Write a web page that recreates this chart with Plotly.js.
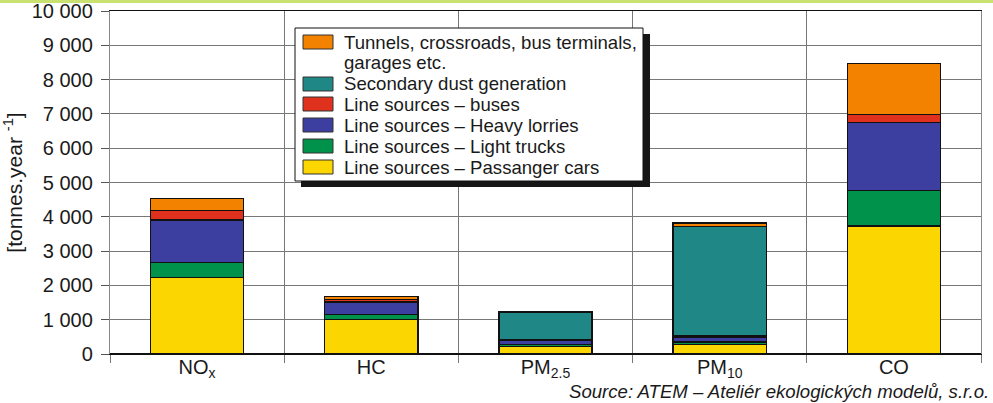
<!DOCTYPE html>
<html>
<head>
<meta charset="utf-8">
<script src="https://cdn.plot.ly/plotly-3.0.1.min.js"></script>
<style>html,body{margin:0;padding:0;background:#fff;}#chart{width:993px;height:403px;}</style>
</head>
<body>
<div id="chart"></div>
<script>
// ---- data (tonnes per year) ----
const categories = ['NOx', 'HC', 'PM2.5', 'PM10', 'CO'];
const tickLabels = ['NO<sub>x</sub>', 'HC', 'PM<sub>2.5</sub>', 'PM<sub>10</sub>', 'CO'];
const passengerCars = [2225, 1010, 215, 280, 3730];
const lightTrucks   = [450, 135, 55, 75, 1030];
const heavyLorries  = [1235, 370, 125, 145, 1990];
const buses         = [270, 80, 20, 45, 240];
const secondaryDust = [0, 0, 790, 3175, 0];
const tunnels       = [350, 90, 40, 95, 1485];
const seriesNames = [
  'Line sources – Passanger cars',
  'Line sources – Light trucks',
  'Line sources – Heavy lorries',
  'Line sources – buses',
  'Secondary dust generation',
  'Tunnels, crossroads, bus terminals, garages etc.'
];
const yTicks = [0, 1000, 2000, 3000, 4000, 5000, 6000, 7000, 8000, 9000, 10000];

// ---- styles ----
const colors = ['#FBD600', '#00924B', '#3C3FA0', '#E0301E', '#1F8886', '#F28200'];
const seriesValues = [passengerCars, lightTrucks, heavyLorries, buses, secondaryDust, tunnels];
const FONT = 'Liberation Sans, Arial, Helvetica, sans-serif';

const traces = seriesValues.map((vals, i) => ({
  type: 'bar',
  name: seriesNames[i],
  x: categories,
  y: vals,
  marker: { color: colors[i], line: { color: '#111', width: 1.4 } },
  showlegend: false,
  hovertemplate: '%{x}: %{y}<extra>' + seriesNames[i] + '</extra>'
}));

// plot area in pixels
const L = 110, R = 981, T = 11, B = 354;
const px = x => (x - L) / (R - L);
const py = y => (B - y) / (B - T);

const shapes = [
  { type: 'rect', xref: 'paper', yref: 'paper', x0: px(0), x1: px(993), y0: py(0), y1: py(3),
    fillcolor: '#C8E170', line: { width: 0 }, layer: 'above' },
  { type: 'rect', xref: 'paper', yref: 'paper', x0: px(301), x1: px(650), y0: py(34), y1: py(187),
    fillcolor: '#161616', line: { width: 0 }, layer: 'above' },
  { type: 'rect', xref: 'paper', yref: 'paper', x0: px(295), x1: px(643), y0: py(28), y1: py(181),
    fillcolor: '#ffffff', line: { color: '#111', width: 1 }, layer: 'above' }
];

const legendOrder = [5, 4, 3, 2, 1, 0];
const swatchY = [[35, 49], [77, 91], [97, 111], [118, 132], [139, 153], [160, 174]];
const annotations = [];
legendOrder.forEach((si, k) => {
  shapes.push({ type: 'rect', xref: 'paper', yref: 'paper',
    x0: px(303), x1: px(333), y0: py(swatchY[k][1]), y1: py(swatchY[k][0]),
    fillcolor: colors[si], line: { color: '#333', width: 1 }, layer: 'above' });
});
const legendLines = [
  ['Tunnels, crossroads, bus terminals,', 42],
  ['garages etc.', 62],
  [seriesNames[4], 84],
  [seriesNames[3], 104],
  [seriesNames[2], 125],
  [seriesNames[1], 146],
  [seriesNames[0], 167]
];
legendLines.forEach(([t, y]) => {
  annotations.push({ xref: 'paper', yref: 'paper', x: px(342), y: py(y),
    xanchor: 'left', yanchor: 'middle', showarrow: false, text: t,
    font: { family: FONT, size: 18.6, color: '#1a1a1a' } });
});
annotations.push({ xref: 'paper', yref: 'paper', x: px(991), y: py(391),
  xanchor: 'right', yanchor: 'middle', showarrow: false,
  text: '<i>Source: ATEM – Ateliér ekologických modelů, s.r.o.</i>',
  font: { family: FONT, size: 18.6, color: '#1a1a1a' } });

const layout = {
  width: 993, height: 403,
  margin: { l: L, r: 993 - R, t: T, b: 403 - B, pad: 0 },
  paper_bgcolor: '#fff', plot_bgcolor: '#fff',
  barmode: 'stack', bargap: 0.464,
  font: { family: FONT, color: '#1a1a1a', size: 20 },
  xaxis: {
    type: 'category', tickson: 'boundaries',
    tickvals: categories, ticktext: tickLabels,
    ticks: 'outside', ticklen: 8, tickcolor: '#777', tickwidth: 1.3,
    ticklabelstandoff: -5,
    showgrid: true, gridcolor: '#777', gridwidth: 1.3,
    showline: true, linecolor: '#111', linewidth: 1.3, mirror: true,
    tickfont: { size: 20, color: '#1a1a1a' },
    fixedrange: true
  },
  yaxis: {
    range: [0, 10000], tickvals: yTicks, tickformat: ',d',
    ticks: 'outside', ticklen: 8, tickcolor: '#555', tickwidth: 1.3,
    ticklabelstandoff: 4,
    showgrid: true, gridcolor: '#777', gridwidth: 1.3,
    zeroline: true, zerolinecolor: '#111', zerolinewidth: 1.5,
    showline: true, linecolor: '#888', linewidth: 1.3, mirror: true,
    tickfont: { size: 20, color: '#1a1a1a' },
    title: { text: '[tonnes.year <sup>-1</sup>]', font: { size: 21, color: '#1a1a1a' }, standoff: 14 },
    fixedrange: true
  },
  separators: '. ',
  shapes: shapes,
  annotations: annotations,
  showlegend: false
};

Plotly.newPlot('chart', traces, layout, { displayModeBar: false });
</script>
</body>
</html>
